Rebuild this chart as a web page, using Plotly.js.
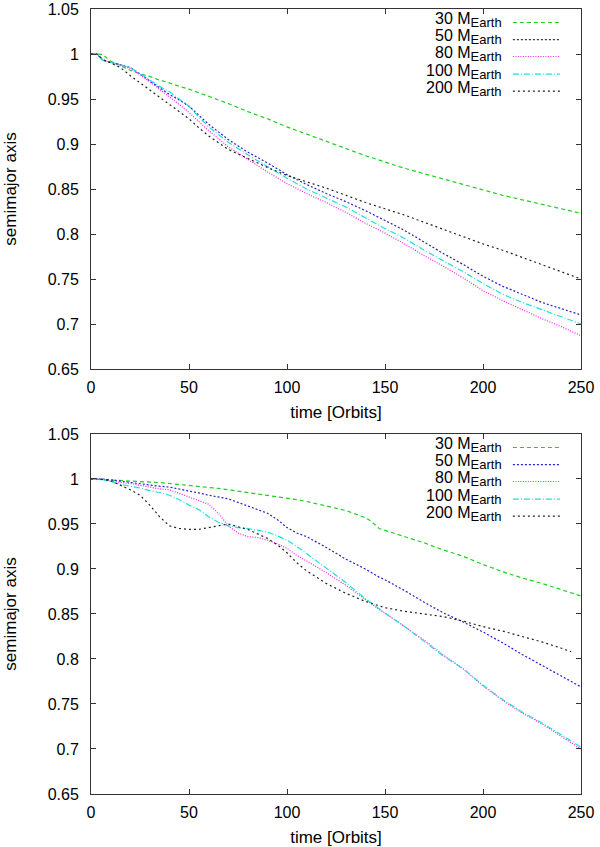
<!DOCTYPE html>
<html>
<head>
<meta charset="utf-8">
<script src="https://cdn.plot.ly/plotly-3.0.1.min.js"></script>
<style>
  html, body { margin: 0; padding: 0; background: #fff; }
  #chart_div { width: 600px; height: 847px; }
</style>
</head>
<body>
<div id="chart_div"></div>
<script>
// series labels, one per planet mass
var masses = ["30", "50", "80", "100", "200"];

// upper panel
var t_top = [0, 3, 6, 10, 15, 20, 25, 30, 35, 40, 45, 50, 55, 60, 70, 80, 90, 100, 110, 120, 130, 140, 150, 160, 170, 180, 190, 200, 210, 220, 230, 240, 250];
var top30  = [1, 1, 0.9996, 0.992, 0.987, 0.982, 0.978, 0.975, 0.971, 0.968, 0.964, 0.961, 0.957, 0.953, 0.945, 0.936, 0.928, 0.919, 0.911, 0.903, 0.895, 0.887, 0.880, 0.873, 0.867, 0.861, 0.855, 0.849, 0.843, 0.838, 0.833, 0.828, 0.823];
var top50  = [1, 1, 0.993, 0.991, 0.988, 0.985, 0.978, 0.970, 0.962, 0.955, 0.949, 0.942, 0.932, 0.922, 0.905, 0.891, 0.879, 0.866, 0.855, 0.845, 0.836, 0.826, 0.815, 0.804, 0.791, 0.778, 0.766, 0.753, 0.742, 0.733, 0.724, 0.717, 0.710];
var top80  = [1, 1, 0.993, 0.991, 0.988, 0.984, 0.977, 0.969, 0.961, 0.953, 0.944, 0.935, 0.925, 0.915, 0.897, 0.883, 0.869, 0.856, 0.845, 0.835, 0.824, 0.812, 0.801, 0.789, 0.776, 0.764, 0.751, 0.737, 0.726, 0.716, 0.706, 0.697, 0.687];
var top100 = [1, 1, 0.993, 0.991, 0.988, 0.985, 0.978, 0.971, 0.964, 0.958, 0.950, 0.942, 0.930, 0.919, 0.902, 0.888, 0.875, 0.862, 0.850, 0.840, 0.830, 0.818, 0.806, 0.795, 0.782, 0.770, 0.758, 0.745, 0.733, 0.724, 0.716, 0.708, 0.700];
var top200 = [1, 1, 0.994, 0.990, 0.985, 0.976, 0.968, 0.960, 0.953, 0.945, 0.937, 0.928, 0.918, 0.909, 0.894, 0.884, 0.874, 0.865, 0.858, 0.851, 0.843, 0.835, 0.828, 0.821, 0.813, 0.805, 0.797, 0.789, 0.782, 0.774, 0.766, 0.758, 0.750];

// lower panel
var t_bot = [0, 5, 10, 15, 20, 25, 30, 35, 40, 45, 50, 55, 60, 65, 70, 75, 80, 85, 90, 95, 100, 105, 110, 120, 130, 140, 143, 147, 150, 160, 170, 180, 190, 200, 210, 220, 230, 240, 245, 250];
var bot30  = [1, 0.9995, 0.999, 0.9985, 0.998, 0.9975, 0.997, 0.996, 0.995, 0.994, 0.993, 0.992, 0.991, 0.9895, 0.988, 0.9865, 0.985, 0.9835, 0.982, 0.9805, 0.979, 0.977, 0.975, 0.970, 0.965, 0.957, 0.953, 0.945, 0.943, 0.936, 0.929, 0.921, 0.914, 0.905, 0.897, 0.890, 0.884, 0.877, 0.8735, 0.870];
var bot50  = [1, 1, 0.999, 0.9975, 0.996, 0.9945, 0.993, 0.992, 0.991, 0.989, 0.987, 0.9845, 0.982, 0.980, 0.978, 0.974, 0.970, 0.966, 0.962, 0.955, 0.946, 0.940, 0.936, 0.924, 0.911, 0.900, 0.896, 0.891, 0.888, 0.876, 0.863, 0.851, 0.841, 0.830, 0.818, 0.805, 0.793, 0.781, 0.775, 0.769];
var bot80  = [1, 1, 0.998, 0.996, 0.995, 0.993, 0.991, 0.989, 0.988, 0.984, 0.980, 0.976, 0.972, 0.962, 0.948, 0.940, 0.936, 0.935, 0.932, 0.928, 0.923, 0.915, 0.909, 0.896, 0.882, 0.866, 0.861, 0.855, 0.851, 0.836, 0.821, 0.804, 0.789, 0.770, 0.754, 0.740, 0.728, 0.714, 0.707, 0.700];
var bot100 = [1, 1, 0.997, 0.994, 0.992, 0.990, 0.987, 0.985, 0.982, 0.977, 0.971, 0.966, 0.958, 0.952, 0.948, 0.946, 0.945, 0.943, 0.941, 0.937, 0.932, 0.925, 0.917, 0.901, 0.885, 0.867, 0.862, 0.855, 0.851, 0.836, 0.820, 0.803, 0.789, 0.771, 0.755, 0.741, 0.729, 0.716, 0.709, 0.702];
var bot200 = [1, 1, 0.998, 0.993, 0.988, 0.982, 0.971, 0.958, 0.948, 0.945, 0.944, 0.944, 0.946, 0.948, 0.950, 0.947, 0.944, 0.939, 0.934, 0.927, 0.918, 0.907, 0.898, 0.884, 0.873, 0.864, 0.862, 0.859, 0.857, 0.853, 0.850, 0.847, 0.842, 0.836, 0.831, 0.825, 0.819, 0.812, 0.808, null];

// axis ticks
var xTicks = [0, 50, 100, 150, 200, 250];
var yTicks = [0.65, 0.7, 0.75, 0.8, 0.85, 0.9, 0.95, 1, 1.05];
var yTickText = ["0.65", "0.7", "0.75", "0.8", "0.85", "0.9", "0.95", "1", "1.05"];

// gnuplot-ish line styles
var colors = ["#22cc22", "#2222cc", "#ee22ee", "#22dddd", "#222222"];
var dashes = ["4px,3px", "2px,2px", "1px,1.5px", "6px,2px,1px,2px", "2px,3px"];

var fontFam = "'Liberation Sans', Arial, Helvetica, sans-serif";
var legendRows = [0.9625, 0.915, 0.868, 0.819, 0.772];

function makeTraces(tvals, series, xa, ya) {
    var traces = [];
    for (var i = 0; i < series.length; i++) {
        traces.push({
            x: tvals,
            y: series[i],
            xaxis: xa,
            yaxis: ya,
            type: 'scatter',
            mode: 'lines',
            connectgaps: false,
            line: {color: colors[i], width: 1.2, dash: dashes[i]},
            showlegend: false,
            hoverinfo: 'none'
        });
    }
    return traces;
}

function axisStyle(extra) {
    var ax = {
        range: [0, 250],
        showgrid: false,
        zeroline: false,
        showline: true,
        linecolor: '#333',
        linewidth: 1,
        mirror: 'ticks',
        ticks: 'inside',
        ticklen: 5,
        tickcolor: '#333',
        tickfont: {family: fontFam, size: 16, color: '#000'}
    };
    for (var k in extra) ax[k] = extra[k];
    return ax;
}

function makeLegend(xref, yref, annos, shapes) {
    for (var i = 0; i < masses.length; i++) {
        annos.push({
            xref: xref, yref: yref,
            x: 0.842, y: legendRows[i] + 0.006,
            xanchor: 'right', yanchor: 'middle',
            text: masses[i] + " M<sub><span style='font-size:13px'>Earth</span></sub>",
            showarrow: false,
            font: {family: fontFam, size: 16, color: '#000'}
        });
        shapes.push({
            type: 'line', xref: xref, yref: yref,
            x0: 0.861, x1: 0.957, y0: legendRows[i], y1: legendRows[i],
            line: {color: colors[i], width: 1.2, dash: dashes[i]}
        });
    }
}

function drawChart() {
    var data = makeTraces(t_top, [top30, top50, top80, top100, top200], 'x', 'y')
        .concat(makeTraces(t_bot, [bot30, bot50, bot80, bot100, bot200], 'x2', 'y2'));

    var xtitle = {text: "time [Orbits]", font: {family: fontFam, size: 17, color: '#000'}, standoff: 10};
    var ytitle = {text: "semimajor axis", font: {family: fontFam, size: 17, color: '#000'}, standoff: 26};

    var annos = [];
    var shapes = [];
    makeLegend('x domain', 'y domain', annos, shapes);
    makeLegend('x2 domain', 'y2 domain', annos, shapes);

    var layout = {
        width: 600,
        height: 847,
        margin: {l: 91, r: 19, t: 9, b: 53},
        paper_bgcolor: '#fff',
        plot_bgcolor: '#fff',
        showlegend: false,
        xaxis: axisStyle({anchor: 'y', tickvals: xTicks, ticklabelstandoff: 4, title: xtitle}),
        yaxis: axisStyle({domain: [0.5414, 1], anchor: 'x', range: [0.65, 1.05], tickvals: yTicks, ticktext: yTickText, ticklabelstandoff: 8, title: ytitle}),
        xaxis2: axisStyle({anchor: 'y2', tickvals: xTicks, ticklabelstandoff: 4, title: xtitle}),
        yaxis2: axisStyle({domain: [0, 0.4586], anchor: 'x2', range: [0.65, 1.05], tickvals: yTicks, ticktext: yTickText, ticklabelstandoff: 8, title: ytitle}),
        annotations: annos,
        shapes: shapes
    };

    Plotly.newPlot("chart_div", data, layout, {staticPlot: true});
}

drawChart();
</script>
</body>
</html>
